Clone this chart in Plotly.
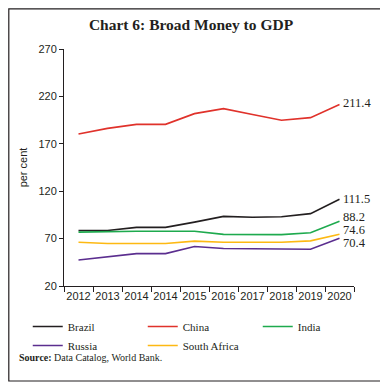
import plotly.graph_objects as go

years = ["2012", "2013", "2014", "2014", "2015", "2016", "2017", "2018", "2019", "2020"]
brazil = [78.6, 78.5, 81.8, 81.8, 87.4, 93.4, 92.5, 93.0, 96.3, 111.5]
china = [180.3, 186.3, 190.5, 190.5, 201.8, 207.1, 201.0, 194.8, 197.6, 211.4]
india = [76.8, 77.5, 77.8, 77.8, 77.8, 74.5, 74.2, 74.2, 76.2, 88.2]
russia = [47.5, 51.0, 54.2, 54.2, 61.6, 59.5, 59.2, 58.8, 58.8, 70.4]
south_africa = [66.2, 64.8, 64.8, 64.8, 67.3, 66.2, 66.2, 66.2, 67.6, 74.6]

series = [
    ("Brazil", brazil, "#231f20", -2),
    ("China", china, "#e0322b", 0),
    ("India", india, "#1eaa4e", 2),
    ("Russia", russia, "#5b2e8f", -7),
    ("South Africa", south_africa, "#fdb913", 2),
]

# page body has an 8px margin: build the figure in shifted coordinates
W, H = 380, 381
L, R, T, B = 56, 34, 41, 103
PW, PH = W - L - R, H - T - B

x = list(range(len(years)))
fig = go.Figure()
for name, vals, col, _ in series:
    fig.add_trace(go.Scatter(x=x, y=vals, mode="lines", name=name,
                             line=dict(color=col, width=1.6)))

for name, vals, col, shift in series:
    fig.add_annotation(x=x[-1], y=vals[-1], text=f"{vals[-1]:.1f}", showarrow=False,
                       xanchor="left", xshift=1, yshift=shift + 2,
                       font=dict(family="Liberation Serif", size=12.5, color="#231f20"))

fig.update_layout(
    width=W, height=H,
    margin=dict(l=L, r=R, t=T, b=B),
    paper_bgcolor="white", plot_bgcolor="white",
    title=dict(text="<b>Chart 6: Broad Money to GDP</b>", xref="paper",
               x=(183 - L) / PW, xanchor="center",
               y=1 - 17 / H, yanchor="middle",
               font=dict(family="Liberation Serif", size=15.5, color="#231f20")),
    showlegend=True,
    legend=dict(orientation="h", x=-0.125, xanchor="left", y=-0.11, yanchor="top",
                entrywidth=70, entrywidthmode="pixels", tracegroupgap=0,
                font=dict(family="Liberation Serif", size=11, color="#231f20"),
                bgcolor="rgba(0,0,0,0)"),
)

fig.update_xaxes(
    range=[-0.5, len(years) - 0.5], tickvals=x, ticktext=years, ticks="",
    showgrid=False, zeroline=False, showline=True, linecolor="#231f20", linewidth=1,
    tickfont=dict(family="Liberation Sans", size=11, color="#231f20"),
    minor=dict(tickvals=[i - 0.5 for i in range(len(years) + 1)], ticks="outside",
               ticklen=5, tickcolor="#231f20", tickwidth=1, showgrid=False),
)
fig.update_yaxes(
    range=[20, 270], tickvals=[20, 70, 120, 170, 220, 270], ticks="outside",
    ticklen=4, tickcolor="#231f20", showgrid=False, zeroline=False,
    showline=True, linecolor="#231f20", linewidth=1,
    tickfont=dict(family="Liberation Sans", size=11, color="#231f20"),
    title=dict(text="per cent", standoff=8,
               font=dict(family="Liberation Sans", size=11, color="#231f20")),
)

# outer border
fig.add_shape(type="rect", xref="paper", yref="paper",
              x0=(0.8 - L) / PW, x1=(373 - L) / PW,
              y0=(T + PH - 373) / PH, y1=(T + PH - 0.8) / PH,
              line=dict(color="#231f20", width=1.2), fillcolor="rgba(0,0,0,0)")

fig.add_annotation(xref="paper", yref="paper", x=(9 - L) / PW, y=-71 / PH,
                   xanchor="left", yanchor="middle", showarrow=False,
                   text="<b>Source:</b> Data Catalog, World Bank.",
                   font=dict(family="Liberation Serif", size=10, color="#231f20"))

fig.write_html("out.html")
